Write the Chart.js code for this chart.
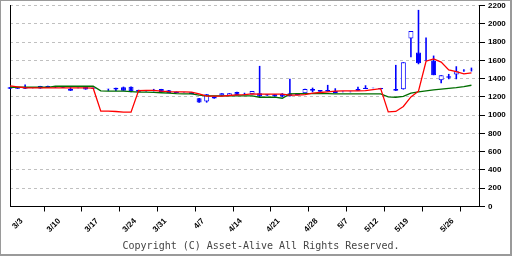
<!DOCTYPE html>
<html>
<head>
<meta charset="utf-8">
<script src="https://cdn.jsdelivr.net/npm/chart.js@4/dist/chart.umd.min.js"></script>
<style>
  html, body { margin: 0; padding: 0; background: #fff; }
  canvas { display: block; }
</style>
</head>
<body>
<canvas id="chart" width="512" height="256"></canvas>
<script>
// trading-day slots (weekday calendar)
const dates = [
  '3/3','3/4','3/5','3/6','3/7',
  '3/10','3/11','3/12','3/13','3/14',
  '3/17','3/18','3/19','3/20','3/21',
  '3/24','3/25','3/26','3/27','3/28',
  '3/31','4/1','4/2','4/3','4/4',
  '4/7','4/8','4/9','4/10','4/11',
  '4/14','4/15','4/16','4/17','4/18',
  '4/21','4/22','4/23','4/24','4/25',
  '4/28','4/29','4/30','5/1','5/2',
  '5/5','5/6','5/7','5/8','5/9',
  '5/12','5/13','5/14','5/15','5/16',
  '5/19','5/20','5/21','5/22','5/23',
  '5/26','5/27','5/28'
];
// axis labels and the slot each one is printed at
const tickLabels = ['3/3','3/10','3/17','3/24','3/31','4/7','4/14','4/21','4/28','5/7','5/12','5/19','5/26'];
const tickLabelSlots = [0, 5, 10, 15, 19, 24, 29, 34, 39, 43, 47, 51, 57];

const opens = [
  1305,1300,1300,1298,1318, 1320,1305,1310,1290,1300,
  1316,1300,null,1289,1300, 1305,1312,1256,1262,1270,
  1287,1272,1257,1252,1250, 1186,1148,1203,1214,1210,
  1254,1232,1229,1240,1228, 1228,1230,1240,1236,1240,
  1285,1275,1276,1265,1256, 1256,1287,1300,1300,1298,
  null,1287,1284,1838,1685, 1604,1594,1382,1425,1444,
  1486,1497,null
];
const highs = [
  1308,1302,1334,1302,1320, 1323,1308,1312,1305,1302,
  1316,1302,null,1289,1301, 1312,1314,1278,1276,1287,
  1287,1274,1258,1254,1251, 1188,1230,1204,1240,1241,
  1255,1245,1265,1539,1229, 1229,1240,1397,1237,1288,
  1301,1276,1331,1294,1258, 1258,1312,1327,1300,1298,
  null,1550,1579,1922,2152, 1849,1652,1437,1451,1535,
  1502,1520,null
];
const lows = [
  1285,1288,1286,1294,1290, 1300,1298,1298,1264,1294,
  1279,1288,null,1265,1265, 1266,1251,1254,1258,1260,
  1251,1242,1240,1248,1229, 1135,1137,1180,1213,1209,
  1217,1220,1228,1196,1213, 1202,1196,1203,1218,1239,
  1251,1255,1257,1240,1250, 1250,1266,1285,1294,1284,
  null,1265,1280,1634,1557, 1594,1437,1349,1393,1393,
  1476,1478,null
];
const closes = [
  1288,1290,1288,1296,1292, 1302,1300,1300,1266,1296,
  1280,1290,null,1285,1280, 1268,1262,1276,1270,1262,
  1252,1243,1243,1250,1232, 1137,1229,1181,1240,1240,
  1218,1226,1263,1205,1215, 1204,1205,1207,1220,1287,
  1268,1256,1260,1242,1252, 1252,1268,1287,1296,1284,
  null,1268,1579,1922,1568, 1598,1437,1437,1410,1481,
  1482,1493,null
];
// 5-day and 25-day moving averages as drawn
const ma5 = [
  1320,1310,1300,1298,1298, 1298,1298,1298,1298,1298,
  1298,1295,1043,1043,1040, 1032,1032,1268,1270,1270,
  1262,1257,1254,1254,1252, 1232,1207,1207,1207,1215,
  1221,1225,1232,1229,1229, 1229,1229,1218,1218,1225,
  1240,1248,1255,1262,1265, 1265,1265,1268,1280,1290,
  1035,1040,1095,1200,1262, 1590,1615,1580,1495,1476,
  1451,1462,null
];
const ma25 = [
  1305,1305,1305,1305,1305, 1305,1316,1316,1316,1316,
  1316,1316,1265,1262,1262, 1262,1258,1251,1251,1250,
  1245,1240,1235,1232,1232, 1220,1210,1210,1210,1210,
  1210,1210,1210,1196,1196, 1196,1185,1232,1235,1235,
  1235,1235,1235,1232,1232, 1232,1232,1232,1232,1232,
  1200,1196,1205,1240,1255, 1265,1276,1285,1294,1300,
  1312,1327,null
];

const BLUE = '#0000ff';

const frame = {
  id: 'frame',
  beforeDraw(chart) {
    const c = chart.ctx;
    c.save();
    c.fillStyle = '#fff';
    c.fillRect(0, 0, chart.width, chart.height);
    c.restore();
  },
  afterDraw(chart) {
    const c = chart.ctx;
    c.save();
    c.fillStyle = '#9a9a9a';
    c.fillRect(0, 0, 512, 1);
    c.fillRect(0, 0, 1, 256);
    c.fillRect(510, 0, 2, 256);
    c.fillRect(0, 254, 512, 2);
    c.restore();
  }
};

new Chart(document.getElementById('chart'), {
  type: 'bar',
  data: {
    labels: dates,
    datasets: [
      {
        type: 'line',
        data: ma5,
        borderColor: '#ff0000',
        borderWidth: 1.3,
        pointRadius: 0,
        tension: 0,
        order: 1
      },
      {
        type: 'line',
        data: ma25,
        borderColor: '#006e00',
        borderWidth: 1.3,
        pointRadius: 0,
        tension: 0,
        order: 2
      },
      {
        data: opens.map((o, i) => o == null ? null : [o, closes[i]]),
        backgroundColor: c => (closes[c.dataIndex] < opens[c.dataIndex]) ? BLUE : '#ffffff',
        borderColor: BLUE,
        borderWidth: 1,
        borderSkipped: false,
        inflateAmount: 0,
        barThickness: 5,
        grouped: false,
        clip: false,
        order: 3
      },
      {
        data: lows.map((l, i) => l == null ? null : [l, highs[i]]),
        backgroundColor: BLUE,
        borderWidth: 0,
        inflateAmount: 0,
        barThickness: 1.6,
        grouped: false,
        clip: false,
        order: 4
      }
    ]
  },
  options: {
    responsive: false,
    animation: false,
    devicePixelRatio: 1,
    layout: { padding: { left: 10, top: 5.5, right: 0, bottom: 0 } },
    plugins: {
      legend: { display: false },
      tooltip: { enabled: false },
      title: {
        display: true,
        position: 'bottom',
        text: 'Copyright (C) Asset-Alive All Rights Reserved.',
        color: '#444',
        font: { family: 'DejaVu Sans Mono', size: 10, weight: 'normal' },
        padding: { top: 2, bottom: 4 }
      }
    },
    scales: {
      x: {
        offset: false,
        grid: {
          drawOnChartArea: false,
          tickLength: 5,
          tickColor: c => (c.index % 5 === 0) ? '#000' : 'rgba(0,0,0,0)'
        },
        border: { color: '#000', width: 1 },
        ticks: {
          autoSkip: false,
          minRotation: 45,
          maxRotation: 45,
          labelOffset: 11.5,
          padding: 5,
          color: '#000',
          font: { family: 'Liberation Sans', size: 8, weight: 'bold' },
          callback: (v, i) => {
            const k = tickLabelSlots.indexOf(i);
            return k >= 0 ? tickLabels[k] : '';
          }
        },
        afterFit: s => { s.height = 31.5; s.paddingLeft = 0; s.paddingRight = 0; }
      },
      y: {
        position: 'right',
        min: 0,
        max: 2200,
        grid: {
          color: '#c0c0c0',
          tickColor: '#000',
          tickLength: 6
        },
        border: { color: '#000', width: 1, dash: [3, 3] },
        ticks: {
          stepSize: 200,
          padding: 3,
          color: '#000',
          font: { family: 'Liberation Sans', size: 8, weight: 'bold' },
          callback: v => String(v)
        },
        afterFit: s => { s.width = 33; s.paddingTop = 0; s.paddingBottom = 0; }
      },
      yl: {
        position: 'left',
        grid: { display: false, drawTicks: false },
        ticks: { display: false },
        border: { color: '#000', width: 1 },
        afterFit: s => { s.width = 0; }
      }
    }
  },
  plugins: [frame]
});
</script>
</body>
</html>
